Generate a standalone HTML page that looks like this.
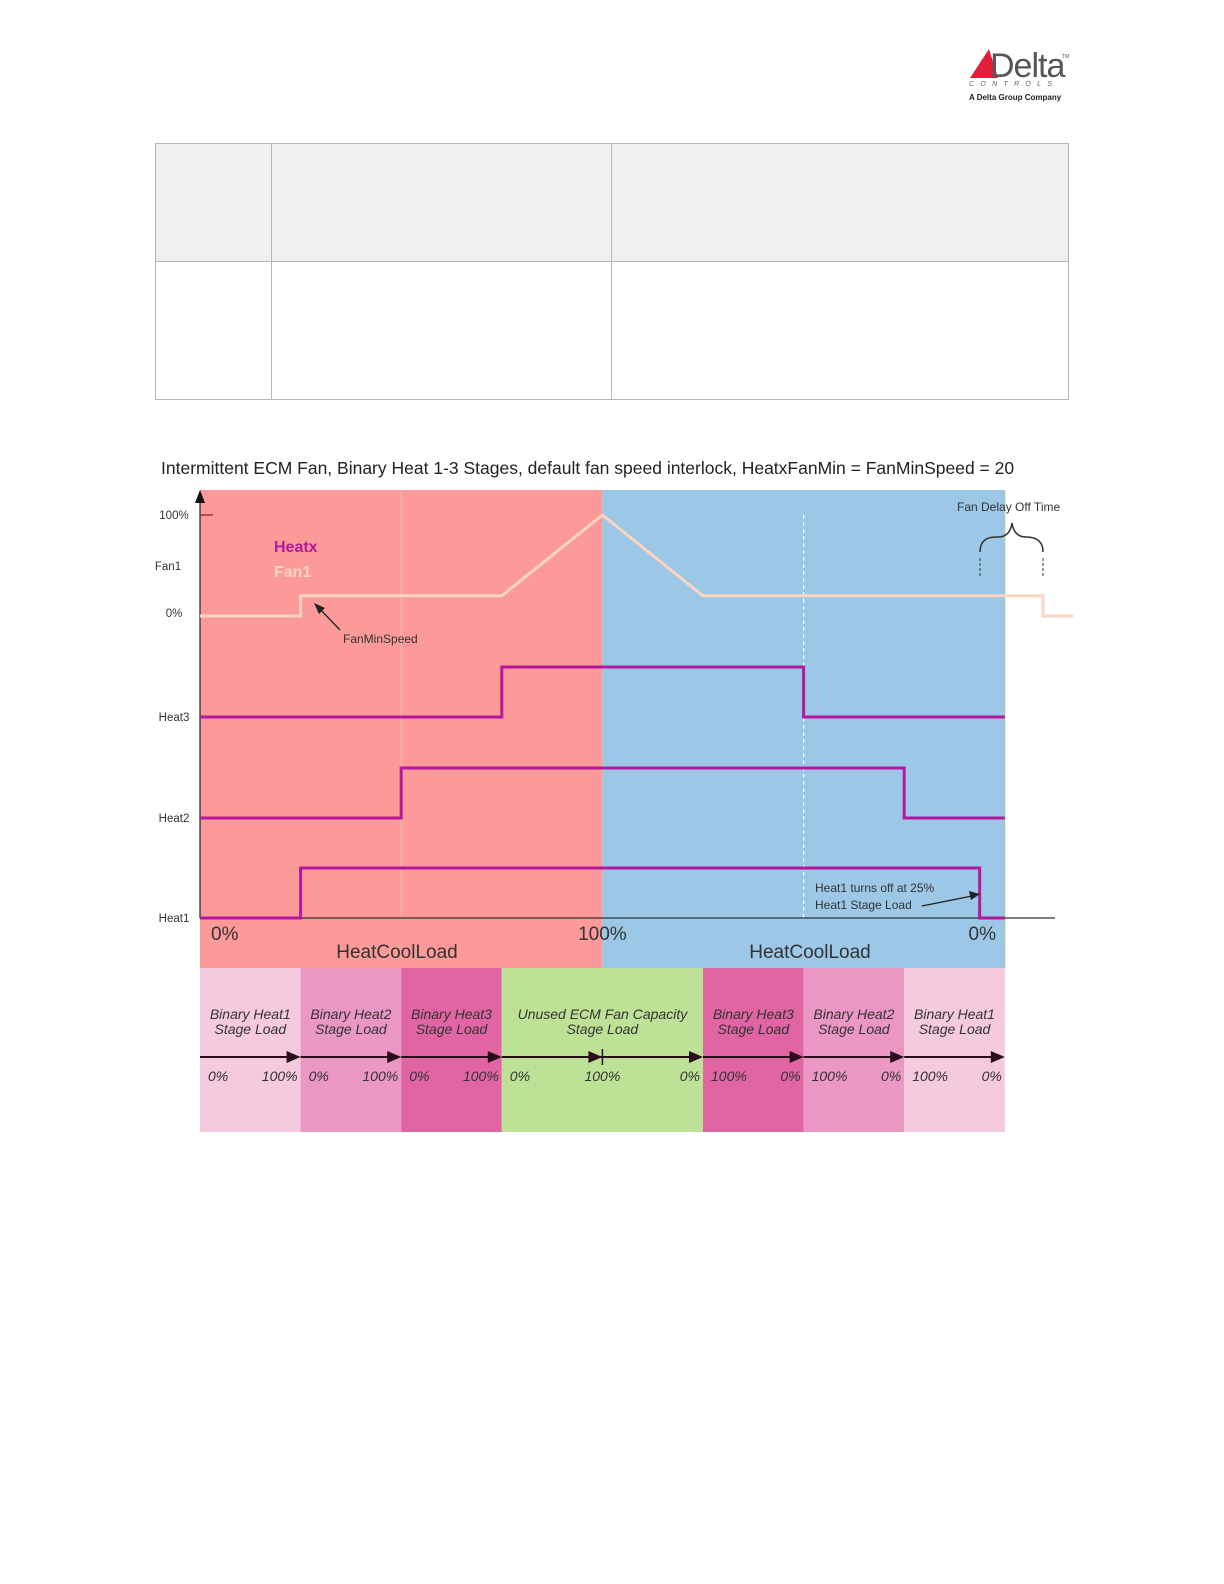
<!DOCTYPE html>
<html><head><meta charset="utf-8">
<style>
html,body{margin:0;padding:0;background:#fff;}
svg{display:block;font-family:"Liberation Sans",sans-serif;}
</style></head>
<body>
<svg id="page" width="1224" height="1584" viewBox="0 0 1224 1584" xmlns="http://www.w3.org/2000/svg">
  <!-- Logo -->
  <g>
    <polygon points="970,78 989,49 998,78" fill="#e31e3a"/>
    <text x="990" y="77" font-size="34" fill="#555" font-family="Liberation Sans, sans-serif" letter-spacing="-1">Delta</text>
    <text x="1062" y="58" font-size="5" fill="#555">TM</text>
    <text x="969" y="86" font-size="7" fill="#666" font-style="italic" letter-spacing="6.3">CONTROLS</text>
    <text x="969" y="100" font-size="8" font-weight="bold" fill="#222">A Delta Group Company</text>
  </g>
  <!-- Table -->
  <g>
    <rect x="155.5" y="143.5" width="913" height="118" fill="#eff0f1" stroke="#b5b8bb"/>
    <rect x="155.5" y="261.5" width="913" height="138" fill="#fff" stroke="#b5b8bb"/>
    <line x1="271.5" y1="143" x2="271.5" y2="400" stroke="#b5b8bb"/>
    <line x1="611.5" y1="143" x2="611.5" y2="400" stroke="#b5b8bb"/>
  </g>
  <text x="161" y="474" font-size="17.5" fill="#222">Intermittent ECM Fan, Binary Heat 1-3 Stages, default fan speed interlock, HeatxFanMin = FanMinSpeed = 20</text>
  <g id="chart"></g>
</svg>
<script>
// ---- data ----
const fanX = [0, 1, 1, 3, 4, 5, 8.38, 8.38, 8.68];      // load position (segment units)
const fanY = [0, 0, 20, 20, 100, 20, 20, 0, 0];          // Fan1 percent
const heatNames = ["Heat1", "Heat2", "Heat3"];
const heatRise = [1, 2, 3];        // segment where stage turns on
const heatFall = [7.75, 7, 6];     // segment where stage turns off
const bandLabels = ["Binary Heat1", "Binary Heat2", "Binary Heat3", "Unused ECM Fan Capacity", "Binary Heat3", "Binary Heat2", "Binary Heat1"];
const bandStart = [0, 1, 2, 3, 5, 6, 7];
const bandEnd = [1, 2, 3, 5, 6, 7, 8];
const bandLeftTick = ["0%", "0%", "0%", "0%", "100%", "100%", "100%"];
const bandRightTick = ["100%", "100%", "100%", "0%", "0%", "0%", "0%"];

// ---- scales ----
const X0 = 200, SEG = 100.6;
const xs = v => X0 + v * SEG;
const fanScale = p => 616 - p * (616 - 515) / 100;
const heatBase = [918, 818, 717];
const heatH = 50;

const NS = "http://www.w3.org/2000/svg";
const chart = document.getElementById("chart");
function mk(tag, attrs, parent, text) {
  const e = document.createElementNS(NS, tag);
  for (const k in attrs) e.setAttribute(k, attrs[k]);
  if (text !== undefined) e.textContent = text;
  (parent || chart).appendChild(e);
  return e;
}

// backgrounds
let e = mk("rect", {x: xs(0), y: 490, width: xs(4) - xs(0), height: 478, fill: "#fc9999"});


e = mk("rect", {x: xs(4), y: 490, width: xs(8) - xs(4), height: 478, fill: "#9dc7e6"});


mk("line", {x1: xs(8), y1: 490, x2: xs(8), y2: 968, stroke: "#a9d08e", "stroke-width": 1});
// faint gridlines
mk("line", {x1: xs(2), y1: 490, x2: xs(2), y2: 918, stroke: "#f2b0b0", "stroke-width": 1.5});
mk("line", {x1: xs(6), y1: 515, x2: xs(6), y2: 918, stroke: "#fff", "stroke-width": 1.2, "stroke-dasharray": "4,3"});

// bands
const bandColors = ["#f5c9de", "#ea97c3", "#e065a2", "#bde296", "#e065a2", "#ea97c3", "#f5c9de"];
bandLabels.forEach((lab, i) => {
  const x1 = xs(bandStart[i]), x2 = xs(bandEnd[i]);
  let r = mk("rect", {x: x1, y: 968, width: x2 - x1, height: 164, fill: bandColors[i]});
  
  
  const cx = (x1 + x2) / 2;
  mk("text", {x: cx, y: 1019, "font-size": 14, "font-style": "italic", fill: "#333", "text-anchor": "middle"}, null, lab);
  mk("text", {x: cx, y: 1034, "font-size": 14, "font-style": "italic", fill: "#333", "text-anchor": "middle"}, null, "Stage Load");
  mk("line", {x1: x1, y1: 1057, x2: x2 - 12, y2: 1057, stroke: "#2a0d1a", "stroke-width": 2});
  mk("polygon", {points: `${x2},1057 ${x2 - 14},1051 ${x2 - 14},1063`, fill: "#2a0d1a"});
  mk("text", {x: x1 + 8, y: 1081, "font-size": 14, "font-style": "italic", fill: "#333"}, null, bandLeftTick[i]);
  mk("text", {x: x2 - 3, y: 1081, "font-size": 14, "font-style": "italic", fill: "#333", "text-anchor": "end"}, null, bandRightTick[i]);
});
// middle arrow in unused band
mk("polygon", {points: `${xs(4)},1057 ${xs(4) - 14},1051 ${xs(4) - 14},1063`, fill: "#2a0d1a"});
mk("line", {x1: xs(4), y1: 1049, x2: xs(4), y2: 1065, stroke: "#2a0d1a", "stroke-width": 1.5});
mk("text", {x: xs(4), y: 1081, "font-size": 14, "font-style": "italic", fill: "#333", "text-anchor": "middle"}, null, "100%");

// axes
mk("line", {x1: X0, y1: 500, x2: X0, y2: 918, stroke: "#222", "stroke-width": 1.2});
mk("polygon", {points: `${X0},490 ${X0 - 5},503 ${X0 + 5},503`, fill: "#111"});
mk("line", {x1: X0, y1: 918, x2: 1055, y2: 918, stroke: "#333", "stroke-width": 1.2});
mk("line", {x1: X0, y1: 515, x2: 213, y2: 515, stroke: "#8b1a1a", "stroke-width": 1.2});

// y labels
[["100%", 174, 519], ["Fan1", 168, 570], ["0%", 174, 617], ["Heat3", 174, 721], ["Heat2", 174, 822], ["Heat1", 174, 922]].forEach(l => {
  let t = mk("text", {x: l[1], y: l[2], "font-size": 11.5, fill: "#333", "text-anchor": "middle"}, null, l[0]);
  
  
});

// legend
mk("text", {x: 274, y: 552, "font-size": 16, "font-weight": "bold", fill: "#b5179e"}, null, "Heatx");
mk("text", {x: 274, y: 577, "font-size": 16, "font-weight": "bold", fill: "#fcd5c0"}, null, "Fan1");

// fan line
let fanPts = fanX.map((v, i) => `${xs(v)},${fanScale(fanY[i])}`).join(" ");
let fl = mk("polyline", {points: fanPts, fill: "none", stroke: "#fcd5c0", "stroke-width": 3});



// heat lines
heatNames.forEach((n, i) => {
  const b = heatBase[i], h = b - heatH;
  const pts = [[0, b], [heatRise[i], b], [heatRise[i], h], [heatFall[i], h], [heatFall[i], b], [8, b]]
    .map(p => `${xs(p[0])},${p[1]}`).join(" ");
  let pl = mk("polyline", {points: pts, fill: "none", stroke: "#b5179e", "stroke-width": 3});
  
  
});

// annotations
mk("line", {x1: 340, y1: 630, x2: 318, y2: 607, stroke: "#222", "stroke-width": 1.3});
mk("polygon", {points: "314,603 325,608 319,614", fill: "#222"});
mk("text", {x: 343, y: 643, "font-size": 12, fill: "#333"}, null, "FanMinSpeed");
mk("text", {x: 957, y: 511, "font-size": 12, fill: "#333"}, null, "Fan Delay Off Time");
mk("path", {d: "M980,552 Q980,536 998,537 Q1010,537 1012,523 Q1014,537 1026,537 Q1043,537 1043,552", fill: "none", stroke: "#333", "stroke-width": 1.5});
mk("line", {x1: 980, y1: 558, x2: 980, y2: 578, stroke: "#333", "stroke-dasharray": "3,2"});
mk("line", {x1: 1043, y1: 558, x2: 1043, y2: 578, stroke: "#333", "stroke-dasharray": "3,2"});
mk("text", {x: 815, y: 892, "font-size": 12, fill: "#333"}, null, "Heat1 turns off at 25%");
mk("text", {x: 815, y: 909, "font-size": 12, fill: "#333"}, null, "Heat1 Stage Load");
mk("line", {x1: 922, y1: 906, x2: 972, y2: 896, stroke: "#222", "stroke-width": 1.3});
mk("polygon", {points: "980,894 969,891 971,900", fill: "#222"});

// x labels
mk("text", {x: 211, y: 940, "font-size": 19, fill: "#333"}, null, "0%");
mk("text", {x: xs(4), y: 940, "font-size": 19, fill: "#333", "text-anchor": "middle"}, null, "100%");
mk("text", {x: 996, y: 940, "font-size": 19, fill: "#333", "text-anchor": "end"}, null, "0%");
let xa = mk("text", {x: 397, y: 958, "font-size": 19, fill: "#333", "text-anchor": "middle"}, null, "HeatCoolLoad");


xa = mk("text", {x: 810, y: 958, "font-size": 19, fill: "#333", "text-anchor": "middle"}, null, "HeatCoolLoad");


</script>
</body></html>
